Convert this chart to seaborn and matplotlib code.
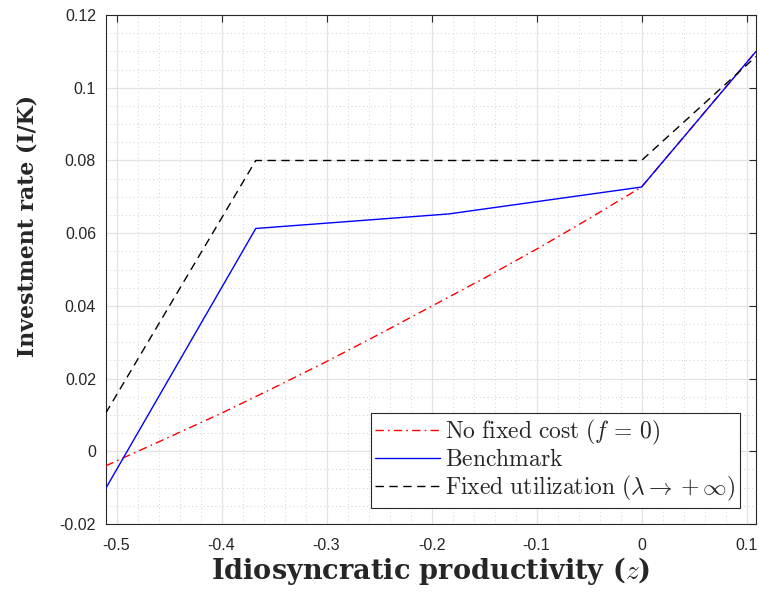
import numpy as np
import pandas as pd
import matplotlib
matplotlib.use("Agg")
import matplotlib.pyplot as plt
from matplotlib.ticker import MultipleLocator, FuncFormatter
import seaborn as sns

# ---- data ----
z_grid = [-0.5103, -0.3674, -0.1837, 0.0, 0.109]
benchmark = [-0.0102, 0.0613, 0.0653, 0.0727, 0.1100]
fixed_util = [0.0105, 0.0800, 0.0800, 0.0800, 0.1086]

z_nofix = [-0.5103, -0.45, -0.40, -0.35, -0.30, -0.25, -0.20, -0.15, -0.10, -0.05, 0.0, 0.109]
no_fixed = [-0.0040, 0.0039, 0.0105, 0.0175, 0.0247, 0.0322, 0.0399, 0.0476, 0.0556, 0.0640, 0.0727, 0.1100]

x_ticks = [-0.5, -0.4, -0.3, -0.2, -0.1, 0.0, 0.1]
y_ticks = [-0.02, 0.0, 0.02, 0.04, 0.06, 0.08, 0.10, 0.12]

labels = [r"$\mathrm{No\ fixed\ cost\ (}f\,=\,0\mathrm{)}$",
          r"$\mathrm{Benchmark}$",
          r"$\mathrm{Fixed\ utilization\ (}\lambda\rightarrow+\infty\mathrm{)}$"]
xlabel_text = r"Idiosyncratic productivity ($z$)"
ylabel_text = "Investment rate (I/K)"

sns.set_style("whitegrid")
plt.rcParams["font.family"] = ["Liberation Sans", "DejaVu Sans"]
plt.rcParams["mathtext.fontset"] = "cm"
plt.rcParams["axes.unicode_minus"] = False

fig = plt.figure(figsize=(7.59, 5.94), dpi=100)
ax = fig.add_axes([0.1393, 0.1178, 0.996 - 0.1393, 0.9746 - 0.1178])

df_red = pd.DataFrame({"z": z_nofix, "v": no_fixed})
df_blue = pd.DataFrame({"z": z_grid, "v": benchmark})
df_black = pd.DataFrame({"z": z_grid, "v": fixed_util})

sns.lineplot(data=df_red, x="z", y="v", ax=ax, color="#ff0000", lw=1.0,
             sort=False, estimator=None, label=labels[0])
sns.lineplot(data=df_blue, x="z", y="v", ax=ax, color="#0000ff", lw=1.0,
             sort=False, estimator=None, label=labels[1])
sns.lineplot(data=df_black, x="z", y="v", ax=ax, color="#000000", lw=1.0,
             sort=False, estimator=None, label=labels[2])

ax.lines[0].set_dashes([6, 3, 1.2, 3])
ax.lines[2].set_dashes([6, 4])
ax.lines[0].set_zorder(3)
ax.lines[1].set_zorder(4)
ax.lines[2].set_zorder(5)

ax.set_xlim(-0.5103, 0.109)
ax.set_ylim(-0.02, 0.12)
ax.set_xticks(x_ticks)
ax.set_yticks(y_ticks)

def fmt(v, pos):
    s = f"{v:.2f}".rstrip("0").rstrip(".")
    if s in ("-0", ""):
        s = "0"
    return s

ax.xaxis.set_major_formatter(FuncFormatter(fmt))
ax.yaxis.set_major_formatter(FuncFormatter(fmt))
ax.xaxis.set_minor_locator(MultipleLocator(0.02))
ax.yaxis.set_minor_locator(MultipleLocator(0.005))

ax.grid(which="major", color="#e3e3e3", linestyle="-", linewidth=0.9)
ax.grid(which="minor", color="#d2d2d2", linestyle=(0, (1, 3)), linewidth=0.7)
ax.set_axisbelow(True)

ax.tick_params(which="major", direction="in", length=5, width=0.8, color="#262626",
               top=True, right=True, labelsize=11.5, labelcolor="#262626")
ax.tick_params(axis="x", which="major", pad=10)
ax.tick_params(axis="y", which="major", pad=7)
ax.tick_params(which="minor", length=0, top=True, right=True)
for s in ax.spines.values():
    s.set_visible(True)
    s.set_color("#262626")
    s.set_linewidth(0.8)

xl = ax.set_xlabel(xlabel_text, fontsize=17, color="#262626",
                   family="DejaVu Serif", weight="bold", math_fontfamily="cm")
yl = ax.set_ylabel(ylabel_text, fontsize=17, color="#262626",
                   family="DejaVu Serif", weight="bold")

# fit label sizes to measured pixel widths of the reference
fig.canvas.draw()
r = fig.canvas.get_renderer()
w = xl.get_window_extent(r).width
xl.set_fontsize(17 * 440.0 / w)
h = yl.get_window_extent(r).height
yl.set_fontsize(17 * 262.0 / h)

xl.set_va("baseline")
ax.xaxis.set_label_coords(0.5, (524 - 579.0) / 509.0)
yl.set_va("center")
ax.yaxis.set_label_coords((27 - 105.7) / 651.0, (524 - 226.0) / 509.0)

def make_legend(fs):
    return ax.legend(loc="lower right", bbox_to_anchor=(740.0 / 759, (594 - 508.0) / 594),
                     bbox_transform=fig.transFigure, fontsize=fs,
                     frameon=True, fancybox=False, edgecolor="#262626", framealpha=1,
                     handlelength=2.75, handletextpad=0.2, borderpad=0.2, labelspacing=0.12,
                     borderaxespad=0)

leg = make_legend(14)
fig.canvas.draw()
tw = leg.get_texts()[2].get_window_extent(r).width
fs = 14 * 291.0 / tw
leg = make_legend(fs)
leg.get_frame().set_linewidth(0.8)

fig.savefig("out.png", dpi=100)
